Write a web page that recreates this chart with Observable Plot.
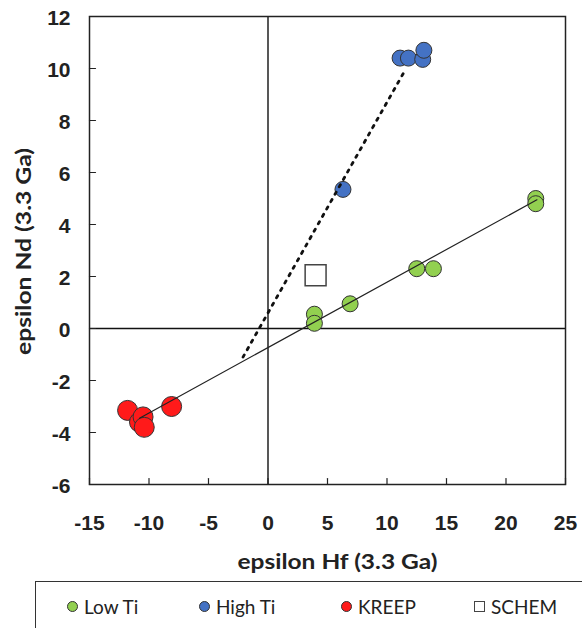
<!DOCTYPE html>
<html>
<head>
<meta charset="utf-8">
<script src="https://cdn.jsdelivr.net/npm/d3@7"></script>
<script src="https://cdn.jsdelivr.net/npm/@observablehq/plot@0.6"></script>
<style>
  html, body { margin: 0; padding: 0; background: #fff; overflow: hidden; }
  #wrap { position: relative; width: 582px; height: 628px; overflow: hidden; }
  #legend { position: absolute; left: 35px; top: 581px; width: 600px; height: 80px;
            border: 1.5px solid #333; box-sizing: border-box; }
  .item { position: absolute; top: 0; height: 48px; display: flex; align-items: center;
          font-family: Lato, "Open Sans", sans-serif; font-size: 19px; color: #222; }
  .mk { display: inline-block; width: 11px; height: 11px; border-radius: 50%;
        border: 1.2px solid #333; margin-right: 6px; box-sizing: border-box; }
  .sq { border-radius: 0; width: 11px; height: 11px; background: #fff; border: 1.3px solid #444; }
</style>
</head>
<body>
<div id="wrap"></div>
<script>
// ---- data ----
const lowTiHf  = [22.5, 22.5, 12.5, 13.9, 6.9, 3.9, 3.9];
const lowTiNd  = [5.0, 4.8, 2.3, 2.3, 0.95, 0.55, 0.2];
const highTiHf = [6.3, 11.1, 11.8, 13.0, 13.1];
const highTiNd = [5.35, 10.4, 10.4, 10.35, 10.7];
const kreepHf  = [-11.8, -8.1, -10.8, -10.5, -10.4];
const kreepNd  = [-3.15, -3.0, -3.6, -3.4, -3.8];
const schemHf  = [4.0];
const schemNd  = [2.05];
// trend lines (end points)
const solidHf  = [-10.8, 22.6];
const solidNd  = [-3.45, 4.95];
const dotHf    = [-2.1, 11.6];
const dotNd    = [-1.1, 10.0];
const xTicks = [-15, -10, -5, 0, 5, 10, 15, 20, 25];
const yTicks = [-6, -4, -2, 0, 2, 4, 6, 8, 10, 12];
const xTitle = "epsilon Hf (3.3 Ga)";
const yTitle = "epsilon Nd (3.3 Ga)";
const legendNames = ["Low Ti", "High Ti", "KREEP", "SCHEM"];
const colors = {low: "#92d050", high: "#4472c4", kreep: "#ff1a1a"};

const pts = (xs, ys) => xs.map((x, i) => ({x, y: ys[i]}));
const tickShape = {draw(ctx, l) { ctx.moveTo(0, 0); ctx.lineTo(0, -l); }};

const chart = Plot.plot({
  width: 582,
  height: 580,
  marginLeft: 89,
  marginRight: 17,
  marginTop: 16,
  marginBottom: 96,
  style: {background: "#fff"},
  x: {domain: [-15, 25]},
  y: {domain: [-6, 12]},
  marks: [
    Plot.ruleX([0], {stroke: "#111", strokeWidth: 1.4}),
    Plot.ruleY([0], {stroke: "#111", strokeWidth: 1.4}),
    Plot.dot(pts(kreepHf, kreepNd), {x: "x", y: "y", r: 10, fill: colors.kreep, stroke: "#333", strokeWidth: 1}),
    Plot.dot(pts(lowTiHf, lowTiNd), {x: "x", y: "y", r: 8, fill: colors.low, stroke: "#333", strokeWidth: 1}),
    Plot.dot(pts(highTiHf, highTiNd), {x: "x", y: "y", r: 8, fill: colors.high, stroke: "#333", strokeWidth: 1}),
    Plot.line(pts(solidHf, solidNd), {x: "x", y: "y", stroke: "#222", strokeWidth: 1.2}),
    Plot.line(pts(dotHf, dotNd), {x: "x", y: "y", stroke: "#111", strokeWidth: 2.8, strokeDasharray: "2.5,6"}),
    Plot.dot(pts(schemHf, schemNd), {x: "x", y: "y", symbol: "square", r: 11.8, fill: "#fff", stroke: "#444", strokeWidth: 1.5}),
    Plot.frame({stroke: "#222", strokeWidth: 1.5}),
    Plot.vector(xTicks, {x: d => d, frameAnchor: "bottom", length: 6, rotate: 0, anchor: "start", shape: tickShape, stroke: "#222", strokeWidth: 1.2}),
    Plot.vector(yTicks, {y: d => d, frameAnchor: "left", length: 6, rotate: 90, anchor: "start", shape: tickShape, stroke: "#222", strokeWidth: 1.2}),
    Plot.axisX({ticks: xTicks, tickSize: 0, tickPadding: 31, tickFormat: d => String(d), label: null,
      fontSize: 21, fontWeight: "bold", fontFamily: "Liberation Sans, Arial, sans-serif", fill: "#222"}),
    Plot.axisY({ticks: yTicks, tickSize: 0, tickPadding: 19, dy: 2, tickFormat: d => String(d), label: null,
      fontSize: 21, fontWeight: "bold", fontFamily: "Liberation Sans, Arial, sans-serif", fill: "#222"}),
    Plot.text([xTitle], {text: d => d, frameAnchor: "bottom", textAnchor: "middle", dx: 10, dy: 78, lineAnchor: "middle",
      fontSize: 20, fontWeight: "bold", fontFamily: "Lato, sans-serif", fill: "#222"}),
    Plot.text([yTitle], {text: d => d, frameAnchor: "left", textAnchor: "middle", dx: -65, dy: 1, rotate: -90, lineAnchor: "middle",
      fontSize: 20, fontWeight: "bold", fontFamily: "Lato, sans-serif", fill: "#222"})
  ]
});

chart.querySelectorAll("text").forEach(t => {
  if (t.textContent === xTitle) { t.setAttribute("textLength", 200); t.setAttribute("lengthAdjust", "spacingAndGlyphs"); }
  if (t.textContent === yTitle) { t.setAttribute("textLength", 207); t.setAttribute("lengthAdjust", "spacingAndGlyphs"); }
});

const wrap = document.getElementById("wrap");
wrap.appendChild(chart);

// legend (HTML, below the SVG)
const legend = document.createElement("div");
legend.id = "legend";
const legendX = [31, 163, 305, 438];
const legendCls = [["mk", colors.low], ["mk", colors.high], ["mk", colors.kreep], ["mk sq", "#fff"]];
legendNames.forEach((name, i) => {
  const it = document.createElement("div");
  it.className = "item";
  it.style.left = legendX[i] + "px";
  const m = document.createElement("span");
  m.className = legendCls[i][0];
  m.style.background = legendCls[i][1];
  it.appendChild(m);
  it.appendChild(document.createTextNode(name));
  legend.appendChild(it);
});
wrap.appendChild(legend);
</script>
</body>
</html>
